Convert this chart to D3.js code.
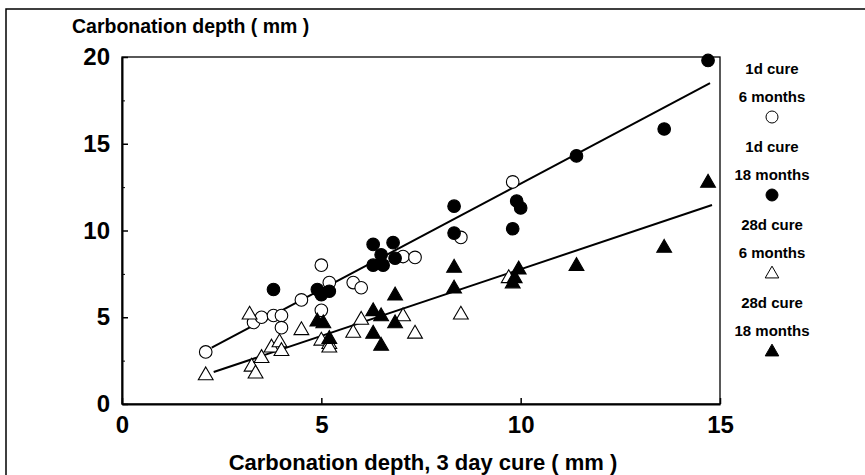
<!DOCTYPE html>
<html>
<head>
<meta charset="utf-8">
<script src="https://cdn.jsdelivr.net/npm/d3@7"></script>
<style>
  body { margin: 0; background: #fff; }
  svg text { font-family: "Liberation Sans", Arial, sans-serif; font-weight: bold; fill: #000; }
</style>
</head>
<body>
<div id="chart"></div>
<script>
const svgWidth = 865;
const svgHeight = 475;

// plot box inside the figure
const margin = { top: 57, right: 145, bottom: 71, left: 122 };
const width = svgWidth - margin.left - margin.right;
const height = svgHeight - margin.top - margin.bottom;

// tick values
const xTicks = [0, 5, 10, 15];
const yTicks = [0, 5, 10, 15, 20];
const yMinorTicks = [2.5, 7.5, 12.5, 17.5];

// [3 day cure depth, depth] pairs
const cure1d6m = [[2.1, 3.0], [3.3, 4.7], [3.5, 5.0], [3.8, 5.1], [4.0, 5.1], [4.0, 4.4],
  [4.5, 6.0], [5.0, 8.0], [5.2, 7.0], [5.0, 5.4], [5.8, 7.0], [6.0, 6.7],
  [7.05, 8.5], [7.35, 8.45], [8.5, 9.6], [9.8, 12.8]];
const cure1d18m = [[3.8, 6.6], [4.9, 6.6], [5.0, 6.3], [5.2, 6.5], [6.3, 9.2], [6.8, 9.3],
  [6.5, 8.6], [6.85, 8.4], [6.3, 8.0], [6.55, 8.0], [8.33, 11.4], [8.33, 9.85],
  [9.9, 11.7], [10.0, 11.3], [9.8, 10.1], [11.4, 14.3], [13.6, 15.85], [14.7, 19.8]];
const cure28d6m = [[2.1, 1.7], [3.2, 5.2], [3.25, 2.2], [3.35, 1.8], [3.5, 2.7], [3.75, 3.3],
  [3.95, 3.6], [4.0, 3.1], [4.5, 4.3], [5.0, 3.7], [5.2, 3.5], [5.2, 3.3],
  [5.8, 4.15], [6.0, 4.9], [7.05, 5.1], [7.35, 4.1], [8.5, 5.2], [9.7, 7.3]];
const cure28d18m = [[4.9, 4.8], [5.05, 4.7], [5.2, 3.8], [6.3, 5.4], [6.5, 5.1], [6.85, 6.3],
  [6.85, 4.7], [6.3, 4.1], [6.5, 3.4], [8.33, 7.9], [8.33, 6.7], [9.95, 7.8],
  [9.85, 7.3], [9.8, 7.0], [11.4, 8.0], [13.6, 9.05], [14.7, 12.8]];

// fitted lines: [intercept, slope, xStart, xEnd]
const fitUpper = [0.5, 1.22, 2.25, 14.75];
const fitLower = [0.07, 0.77, 2.3, 14.8];

const legendLabels = [["1d cure", "6 months"], ["1d cure", "18 months"],
  ["28d cure", "6 months"], ["28d cure", "18 months"]];

const svg = d3.select("#chart")
  .append("svg")
  .attr("width", svgWidth)
  .attr("height", svgHeight);

// outer figure frame (only top and left edges show)
svg.append("path")
  .attr("d", `M6,${svgHeight} V9 H${svgWidth}`)
  .attr("fill", "none")
  .attr("stroke", "#000")
  .attr("stroke-width", 1.5);

const chartGroup = svg.append("g")
  .attr("transform", `translate(${margin.left}, ${margin.top})`);

const xScale = d3.scaleLinear().domain([0, 15]).range([0, width]);
const yScale = d3.scaleLinear().domain([0, 20]).range([height, 0]);

// plot frame
chartGroup.append("rect")
  .attr("width", width)
  .attr("height", height)
  .attr("fill", "none")
  .attr("stroke", "#000")
  .attr("stroke-width", 1.3);

// axes with inward ticks
const leftAxis = d3.axisLeft(yScale).tickValues(yTicks).tickSizeInner(-6).tickSizeOuter(0).tickPadding(12);
const bottomAxis = d3.axisBottom(xScale).tickValues(xTicks).tickSizeInner(-6).tickSizeOuter(0).tickPadding(12);

const yAxis = chartGroup.append("g").call(leftAxis);
const xAxis = chartGroup.append("g")
  .attr("transform", `translate(0, ${height})`)
  .call(bottomAxis);

chartGroup.append("g")
  .call(d3.axisLeft(yScale).tickValues(yMinorTicks).tickSizeInner(-3).tickSizeOuter(0).tickFormat(""));

[xAxis, yAxis].forEach(ax => {
  ax.select(".domain").attr("stroke-width", 2);
  ax.selectAll(".tick line").attr("stroke-width", 1.5);
  ax.selectAll("text").attr("font-size", 24).attr("font-family", null);
});
chartGroup.selectAll(".domain").attr("stroke", "#000");

// fitted lines
const lineGen = d3.line().x(d => xScale(d[0])).y(d => yScale(d[1]));
[fitUpper, fitLower].forEach(f => {
  chartGroup.append("path")
    .datum([[f[2], f[0] + f[1] * f[2]], [f[3], f[0] + f[1] * f[3]]])
    .attr("d", lineGen)
    .attr("fill", "none")
    .attr("stroke", "#000")
    .attr("stroke-width", 2);
});

const triangle = d3.symbol().type(d3.symbolTriangle).size(95);

// points
const series = [
  { data: cure1d6m, shape: "circle", fill: "#fff" },
  { data: cure28d6m, shape: "triangle", fill: "#fff" },
  { data: cure1d18m, shape: "circle", fill: "#000" },
  { data: cure28d18m, shape: "triangle", fill: "#000" }
];

series.forEach(s => {
  const g = chartGroup.append("g");
  if (s.shape === "circle") {
    g.selectAll("circle")
      .data(s.data)
      .join("circle")
      .attr("cx", d => xScale(d[0]))
      .attr("cy", d => yScale(d[1]))
      .attr("r", 6.3)
      .attr("fill", s.fill)
      .attr("stroke", "#000")
      .attr("stroke-width", 1.1);
  } else {
    g.selectAll("path")
      .data(s.data)
      .join("path")
      .attr("d", triangle)
      .attr("transform", d => `translate(${xScale(d[0])}, ${yScale(d[1]) + 1})`)
      .attr("fill", s.fill)
      .attr("stroke", "#000")
      .attr("stroke-width", 1.1);
  }
});

// axis titles
svg.append("text")
  .attr("x", 72)
  .attr("y", 33)
  .attr("font-size", 19.5)
  .text("Carbonation depth ( mm )");

svg.append("text")
  .attr("x", margin.left + width / 2 + 2)
  .attr("y", 470)
  .attr("text-anchor", "middle")
  .attr("font-size", 22)
  .text("Carbonation depth, 3 day cure ( mm )");

// legend on the right
const legendX = 772;
const legendShapes = ["circle", "circle", "triangle", "triangle"];
const legendFills = ["#fff", "#000", "#fff", "#000"];
const legend = svg.append("g");
legendLabels.forEach((lab, i) => {
  const y0 = 74 + i * 78;
  legend.append("text").attr("x", legendX).attr("y", y0)
    .attr("text-anchor", "middle").attr("font-size", 15).text(lab[0]);
  legend.append("text").attr("x", legendX).attr("y", y0 + 28)
    .attr("text-anchor", "middle").attr("font-size", 15).text(lab[1]);
  if (legendShapes[i] === "circle") {
    legend.append("circle")
      .attr("cx", legendX).attr("cy", y0 + 43)
      .attr("r", 6).attr("fill", legendFills[i])
      .attr("stroke", "#000").attr("stroke-width", 1);
  } else {
    legend.append("path")
      .attr("d", d3.symbol().type(d3.symbolTriangle).size(80))
      .attr("transform", `translate(${legendX}, ${y0 + 44})`)
      .attr("fill", legendFills[i])
      .attr("stroke", "#000").attr("stroke-width", 1);
  }
});
</script>
</body>
</html>
